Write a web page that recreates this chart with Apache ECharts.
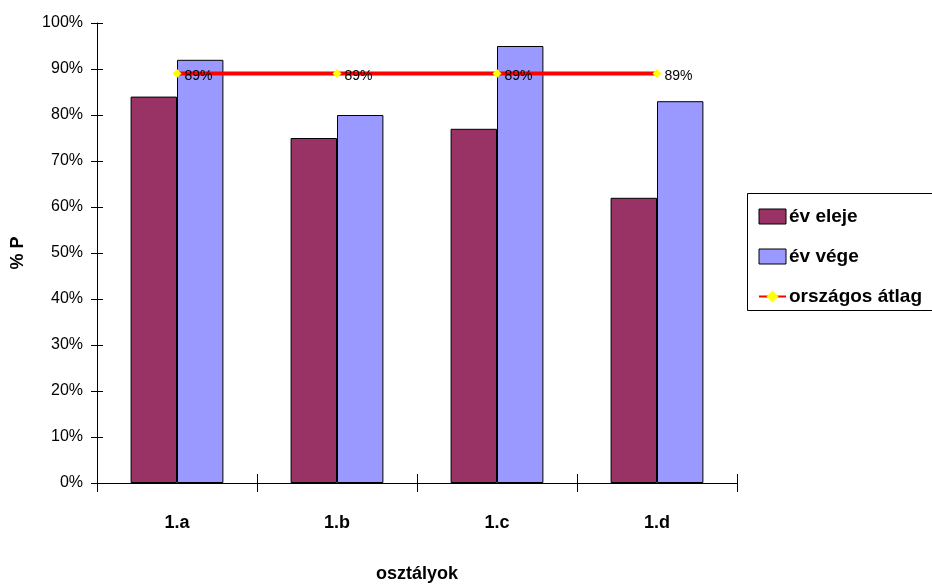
<!DOCTYPE html>
<html>
<head>
<meta charset="utf-8">
<script src="https://cdn.jsdelivr.net/npm/echarts@6/dist/echarts.min.js"></script>
<style>html,body{margin:0;padding:0;background:#fff;}#c{width:932px;height:585px;}</style>
</head>
<body>
<div id="c"></div>
<script>
var categories = ['1.a', '1.b', '1.c', '1.d'];
var evEleje = [84, 75, 77, 62];
var evVege = [92, 80, 95, 83];
var orszagosAtlag = [89, 89, 89, 89];
var yTicks = [0, 10, 20, 30, 40, 50, 60, 70, 80, 90, 100];

var chart = echarts.init(document.getElementById('c'));
var ff = '"Liberation Sans", Arial, sans-serif';
chart.setOption({
  animation: false,
  backgroundColor: '#fff',
  grid: { left: 97, right: 195, top: 23, bottom: 102, containLabel: false, outerBoundsMode: 'none' },
  legend: {
    orient: 'vertical',
    left: 753, top: 202,
    itemWidth: 27, itemHeight: 15, itemGap: 21,
    textStyle: { fontFamily: ff, fontSize: 19, fontWeight: 'bold', color: '#000', padding: [0, 0, 0, -2] },
    data: [
      { name: 'év eleje', icon: 'rect', itemStyle: { borderColor: '#000', borderWidth: 1 } },
      { name: 'év vége', icon: 'rect', itemStyle: { borderColor: '#000', borderWidth: 1 } },
      { name: 'országos átlag' }
    ]
  },
  graphic: [{
    type: 'rect', left: 747, top: 193, z: -1,
    shape: { width: 200, height: 117 },
    style: { fill: '#fff', stroke: '#000', lineWidth: 1 }
  }],
  xAxis: [{
    type: 'category', data: categories,
    name: 'osztályok', nameLocation: 'middle', nameGap: 82,
    nameTextStyle: { fontFamily: ff, fontSize: 18, fontWeight: 'bold', color: '#000' },
    axisLine: { lineStyle: { color: '#000', width: 1 } },
    axisTick: { show: true, length: 9, lineStyle: { color: '#000' } },
    axisLabel: { fontFamily: ff, fontSize: 18, fontWeight: 'bold', color: '#000', margin: 31 }
  }, {
    type: 'category', data: categories, position: 'bottom', offset: 0,
    axisLine: { show: false },
    axisTick: { show: true, inside: true, length: 9, lineStyle: { color: '#000' } },
    axisLabel: { show: false }
  }],
  yAxis: [{
    type: 'value', min: 0, max: 100, interval: 10, position: 'left',
    name: '% P', nameLocation: 'middle', nameGap: 70, nameRotate: 90,
    nameTextStyle: { fontFamily: ff, fontSize: 18, fontWeight: 'bold', color: '#000' },
    axisLine: { show: true, lineStyle: { color: '#000' } },
    axisTick: { show: true, inside: true, length: 6, lineStyle: { color: '#000' } },
    splitLine: { show: false },
    axisLabel: { fontFamily: ff, fontSize: 16, color: '#000', margin: 14,
      formatter: function (v) { return yTicks.indexOf(v) >= 0 ? v + '%' : ''; } }
  }, {
    type: 'value', min: 0, max: 100, interval: 10, position: 'left', offset: 0,
    axisLine: { show: false },
    axisTick: { show: true, inside: false, length: 6, lineStyle: { color: '#000' } },
    axisLabel: { show: false }, splitLine: { show: false }
  }],
  series: [
    { name: 'év eleje', type: 'bar', data: evEleje, barGap: '0%', barCategoryGap: '42%',
      itemStyle: { color: '#993366', borderColor: '#000', borderWidth: 1 } },
    { name: 'év vége', type: 'bar', data: evVege,
      itemStyle: { color: '#9999FF', borderColor: '#000', borderWidth: 1 } },
    { name: 'országos átlag', type: 'line', data: orszagosAtlag, z: 5, yAxisIndex: 1,
      lineStyle: { color: '#FF0000', width: 4 },
      symbol: 'diamond', symbolSize: 9,
      itemStyle: { color: '#FFFF00', borderWidth: 0 },
      label: { show: true, position: 'right', distance: 3, offset: [0, 3], formatter: '{c}%',
        fontFamily: '"Liberation Sans Narrow", "Liberation Sans", Arial', fontSize: 14, color: '#000' } }
  ]
});
</script>
</body>
</html>
